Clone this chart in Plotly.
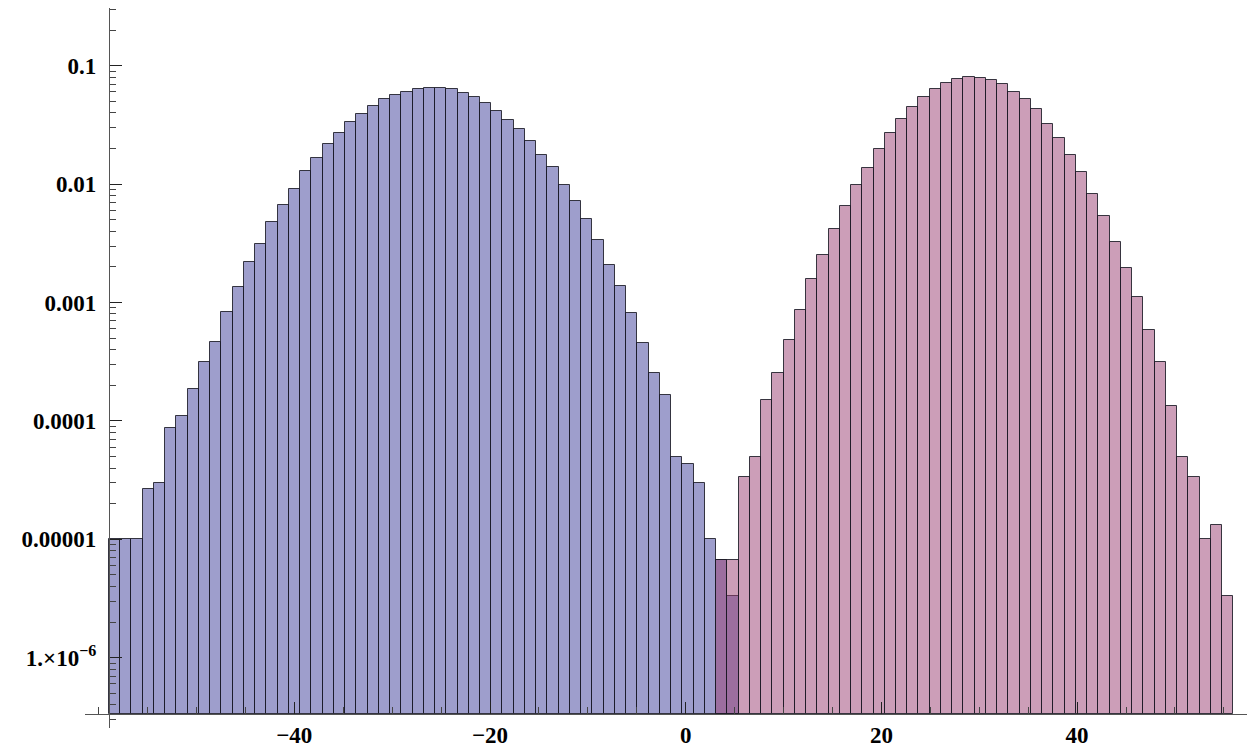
import math
import plotly.graph_objects as go

# ---- data ----
bin_start = -58.94      # left edge of first bin
bin_width = 1.149       # width of each bin
blue_first_bin = 0
blue_vals = [1.0e-5, 1.0e-5, 1.0e-5, 2.67e-5, 3.0e-5, 8.7e-5, 1.10e-4, 1.87e-4, 3.16e-4, 4.67e-4,
             8.3e-4, 1.34e-3, 2.21e-3, 3.14e-3, 4.81e-3, 6.70e-3, 9.14e-3, 0.0130, 0.0167, 0.0217,
             0.0272, 0.0333, 0.0391, 0.0454, 0.0520, 0.0566, 0.0603, 0.0636, 0.0652, 0.0652,
             0.0632, 0.0588, 0.0544, 0.0487, 0.0417, 0.0348, 0.0294, 0.0231, 0.0176, 0.0140,
             9.83e-3, 7.16e-3, 5.07e-3, 3.37e-3, 2.06e-3, 1.39e-3, 8.2e-4, 4.51e-4, 2.54e-4, 1.66e-4,
             5.0e-5, 4.33e-5, 3.0e-5, 1.0e-5, 6.67e-6, 3.33e-6]
pink_first_bin = 54
pink_vals = [6.67e-6, 6.67e-6, 3.33e-5, 5.0e-5, 1.50e-4, 2.54e-4, 4.78e-4, 8.64e-4, 1.57e-3, 2.50e-3,
             4.15e-3, 6.49e-3, 9.83e-3, 0.0138, 0.0198, 0.0272, 0.0357, 0.0448, 0.0544, 0.0639,
             0.0718, 0.0772, 0.0803, 0.0792, 0.0761, 0.0697, 0.0603, 0.0523, 0.0428, 0.0322,
             0.0244, 0.0175, 0.0126, 8.30e-3, 5.35e-3, 3.26e-3, 1.97e-3, 1.11e-3, 5.86e-4, 3.14e-4,
             1.34e-4, 5.0e-5, 3.33e-5, 1.0e-5, 1.33e-5, 3.33e-6]

x_tick_vals = [-40, -20, 0, 20, 40]
x_tick_text = ["\u221240", "\u221220", "0", "20", "40"]
y_tick_vals = [1e-6, 1e-5, 1e-4, 1e-3, 1e-2, 1e-1]
y_tick_text = ["1.\u00d710<sup>\u22126</sup>", "0.00001", "0.0001", "0.001", "0.01", "0.1"]

# ---- axes geometry ----
x_range = [-61.39, 58.18]
y_range_log = [-6.594, -0.5127]
x_origin = bin_start
y_origin = 3.33e-7

x_minor = [v for v in range(-60, 60, 5) if v not in x_tick_vals and x_range[0] <= v <= x_range[1]]
y_minor = []
for e in range(-7, 0):
    for k in range(2, 10):
        v = k * 10 ** e
        if y_range_log[0] <= math.log10(v) <= y_range_log[1]:
            y_minor.append(v)

xpos = (x_origin - x_range[0]) / (x_range[1] - x_range[0])
ypos = (math.log10(y_origin) - y_range_log[0]) / (y_range_log[1] - y_range_log[0])

edge = dict(color="rgba(25,25,35,0.85)", width=1)

fig = go.Figure()
fig.add_trace(go.Bar(
    x0=bin_start + bin_width * (blue_first_bin + 0.5), dx=bin_width,
    y=[v - y_origin for v in blue_vals], base=y_origin, width=bin_width,
    marker=dict(color="rgba(61,61,153,0.5)", line=edge), showlegend=False,
))
fig.add_trace(go.Bar(
    x0=bin_start + bin_width * (pink_first_bin + 0.5), dx=bin_width,
    y=[v - y_origin for v in pink_vals], base=y_origin, width=bin_width,
    marker=dict(color="rgba(153,61,113,0.5)", line=edge), showlegend=False,
))

tickfont = dict(family="Liberation Serif", size=23, color="black", weight="bold")

fig.update_layout(
    template="none",
    width=1247, height=745,
    margin=dict(l=77, r=0, t=0, b=25, pad=0),
    barmode="overlay", bargap=0,
    plot_bgcolor="white", paper_bgcolor="white",
    xaxis=dict(
        range=x_range, anchor="free", position=ypos, domain=[0, 1],
        showgrid=False, zeroline=False, showline=True, linecolor="#555", linewidth=1,
        tickmode="array", tickvals=x_tick_vals, ticktext=x_tick_text,
        ticks="inside", ticklen=12, tickwidth=1, tickcolor="#222",
        minor=dict(tickmode="array", tickvals=x_minor, ticks="inside", ticklen=7,
                   tickwidth=1, tickcolor="#444", showgrid=False),
        tickfont=tickfont, ticklabelstandoff=0, automargin=False,
    ),
    yaxis=dict(
        type="log", range=y_range_log, anchor="free", position=xpos, domain=[0, 1],
        showgrid=False, zeroline=False, showline=True, linecolor="#555", linewidth=1,
        tickmode="array", tickvals=y_tick_vals, ticktext=y_tick_text,
        ticks="inside", ticklen=12, tickwidth=1, tickcolor="#222",
        minor=dict(tickmode="array", tickvals=y_minor, ticks="inside", ticklen=6,
                   tickwidth=1, tickcolor="#444", showgrid=False),
        tickfont=tickfont, ticklabelstandoff=8, automargin=False,
    ),
)

fig.write_html("out.html")
